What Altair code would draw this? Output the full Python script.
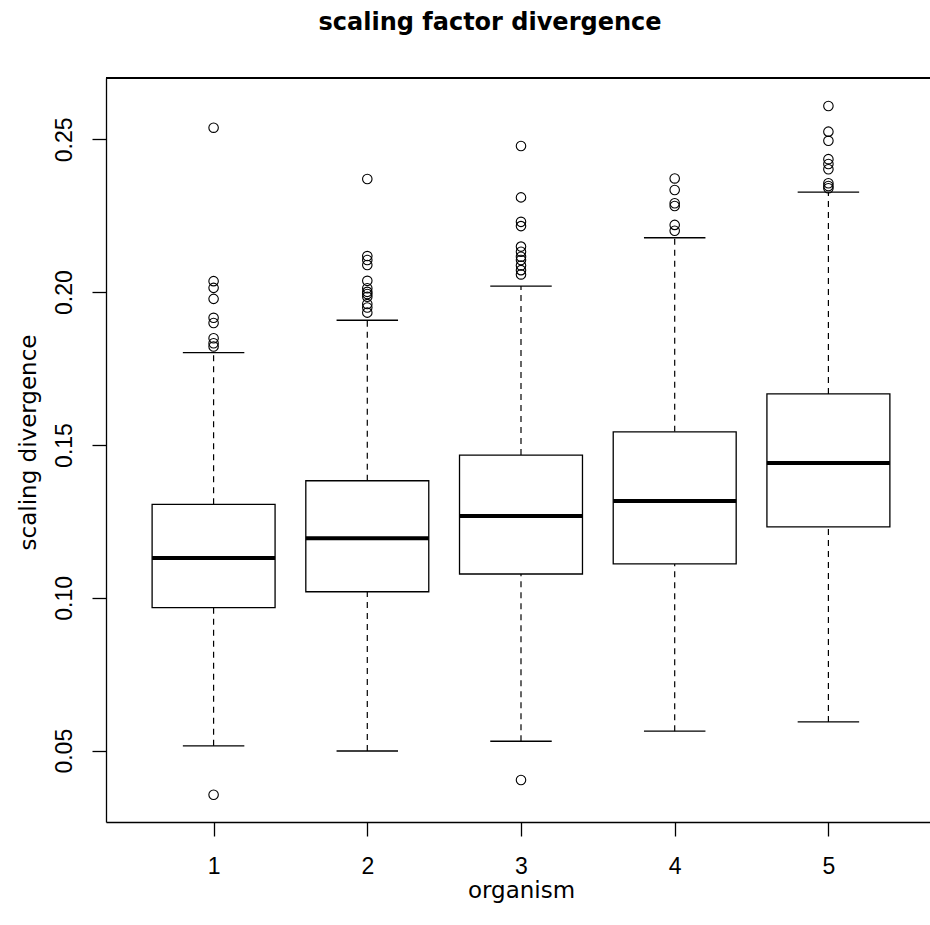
import altair as alt
import pandas as pd

# ---- data ----
organism = [1, 2, 3, 4, 5]
q1 = [0.0968, 0.1020, 0.1078, 0.1111, 0.1232]
median = [0.1130, 0.1195, 0.1268, 0.1317, 0.1441]
q3 = [0.1306, 0.1383, 0.1467, 0.1543, 0.1667]
whisker_low = [0.0516, 0.0499, 0.0531, 0.0564, 0.0594]
whisker_high = [0.1802, 0.1908, 0.2020, 0.2178, 0.2327]

outliers_1 = [0.2538, 0.2036, 0.2014, 0.1978, 0.1916, 0.1899, 0.1849, 0.1833, 0.1822, 0.0356]
outliers_2 = [0.2370, 0.2118, 0.2105, 0.2089, 0.2037, 0.2013, 0.2001, 0.1994, 0.1985,
              0.1961, 0.1950, 0.1933]
outliers_3 = [0.2478, 0.2310, 0.2230, 0.2216, 0.2149, 0.2132, 0.2116, 0.2105, 0.2087,
              0.2072, 0.2058, 0.0404]
outliers_4 = [0.2372, 0.2334, 0.2291, 0.2282, 0.2220, 0.2201]
outliers_5 = [0.2609, 0.2525, 0.2495, 0.2435, 0.2419, 0.2402, 0.2356, 0.2347, 0.2340]

y_ticks = [0.05, 0.10, 0.15, 0.20, 0.25]
x_ticks = [1, 2, 3, 4, 5]

title_text = "scaling factor divergence"
x_title = "organism"
y_title = "scaling divergence"

# ---- tables ----
stats = pd.DataFrame({
    "organism": organism, "q1": q1, "median": median, "q3": q3,
    "lo": whisker_low, "hi": whisker_high,
})
out_rows = []
for org, vals in zip(organism, [outliers_1, outliers_2, outliers_3, outliers_4, outliers_5]):
    for v in vals:
        out_rows.append({"organism": org, "value": v})
outs = pd.DataFrame(out_rows)

W, H = 824, 744
FONT = "DejaVu Sans"
TICKFONT = "Liberation Sans"

xscale = alt.Scale(domain=[0.3, 5.661], nice=False, zero=False)
yscale = alt.Scale(domain=[0.02668, 0.27005], nice=False, zero=False)

xaxis = alt.Axis(values=x_ticks, title=x_title, labelAngle=0, format="d",
                 labelPadding=19, labelBaseline="top",
                 titleX=415, titleY=75, titleBaseline="alphabetic",
                 titleAlign="center")
yaxis = alt.Axis(values=y_ticks, title=y_title, format=".2f", labelAngle=270,
                 labelAlign="center", labelBaseline="alphabetic", labelPadding=21,
                 titleAngle=270, titleX=-71, titleY=364, titleBaseline="alphabetic",
                 titleAlign="center")

base = alt.Chart(stats).transform_calculate(
    left="datum.organism - 0.4", right="datum.organism + 0.4",
    capl="datum.organism - 0.2", capr="datum.organism + 0.2",
)

whisk_hi = base.mark_rule(color="black", strokeWidth=1.2, strokeDash=[6, 5]).encode(
    x=alt.X("organism:Q", scale=xscale, axis=xaxis),
    y=alt.Y("q3:Q", scale=yscale, axis=yaxis),
    y2="hi:Q",
)
whisk_lo = base.mark_rule(color="black", strokeWidth=1.2, strokeDash=[6, 5]).encode(
    x=alt.X("organism:Q", scale=xscale),
    y=alt.Y("lo:Q", scale=yscale),
    y2="q1:Q",
)
box = base.mark_rect(fill="white", stroke="black", strokeWidth=1.3).encode(
    x=alt.X("left:Q", scale=xscale), x2="right:Q",
    y=alt.Y("q1:Q", scale=yscale), y2="q3:Q",
)
med = base.mark_rule(color="black", strokeWidth=4).encode(
    x=alt.X("left:Q", scale=xscale), x2="right:Q",
    y=alt.Y("median:Q", scale=yscale),
)
cap_hi = base.mark_rule(color="black", strokeWidth=1.3).encode(
    x=alt.X("capl:Q", scale=xscale), x2="capr:Q",
    y=alt.Y("hi:Q", scale=yscale),
)
cap_lo = base.mark_rule(color="black", strokeWidth=1.3).encode(
    x=alt.X("capl:Q", scale=xscale), x2="capr:Q",
    y=alt.Y("lo:Q", scale=yscale),
)
points = alt.Chart(outs).mark_point(shape="circle", filled=False, color="black",
                                     size=90, strokeWidth=1.1, opacity=1).encode(
    x=alt.X("organism:Q", scale=xscale),
    y=alt.Y("value:Q", scale=yscale),
)
top_border = alt.Chart(stats).mark_rule(color="black", strokeWidth=1.3).encode(
    x=alt.value(0), x2=alt.value(W), y=alt.value(0),
)
title = alt.Chart(pd.DataFrame({"t": [title_text]})).mark_text(
    font=FONT, fontSize=24, fontWeight="bold", align="center",
    baseline="alphabetic", color="black",
).encode(x=alt.value(490 - 106), y=alt.value(30 - 78), text="t:N")

chart = alt.layer(
    whisk_hi, whisk_lo, box, med, cap_hi, cap_lo, points, top_border, title
).properties(
    width=W, height=H,
    autosize=alt.AutoSizeParams(type="none"),
    padding={"left": 106, "top": 78, "right": 0, "bottom": 95},
).configure_view(
    stroke=None,
).configure_axis(
    grid=False, domainColor="black", domainWidth=1.3, tickColor="black",
    tickWidth=1.3, tickSize=14, labelColor="black", titleColor="black",
    labelFont=TICKFONT, titleFont=FONT, labelFontSize=23, titleFontSize=23,
    titleFontWeight="normal", labelFlush=False, labelOverlap=False,
)

chart.save("out.html", embed_options={"renderer": "svg", "actions": False})
